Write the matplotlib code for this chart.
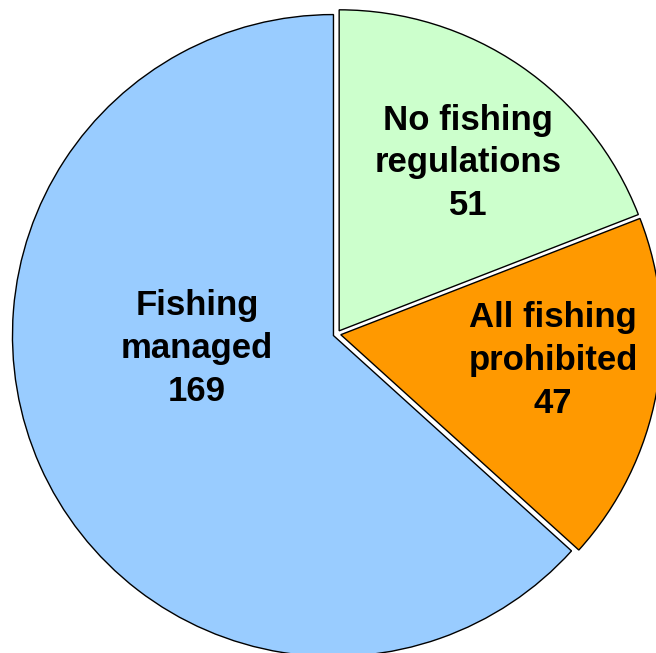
import matplotlib.pyplot as plt

# Data
categories = ['No fishing\nregulations', 'All fishing\nprohibited', 'Fishing\nmanaged']
counts = [51, 47, 169]
colors = ['#CCFFCC', '#FF9900', '#99CCFF']

# label centres in data units (radius 1 = pie radius)
label_pos = [(0.408, 0.533), (0.673, -0.083), (-0.436, -0.046)]

plt.rcParams['font.family'] = ['Liberation Sans', 'DejaVu Sans']

fig = plt.figure(figsize=(6.56, 6.53), dpi=100)
ax = fig.add_axes([0, 0, 1, 1])

wedges, _ = ax.pie(counts, colors=colors, startangle=90, counterclock=False,
                   explode=[0.012] * 3,
                   wedgeprops=dict(edgecolor='black', linewidth=1))

for lab, n, (x, y) in zip(categories, counts, label_pos):
    ax.text(x, y, f'{lab}\n{n}', ha='center', va='center', fontsize=25,
            fontweight='bold', linespacing=1.38)

ax.set_aspect('equal')
ax.set_xlim(-1.0498, 0.9938)
ax.set_ylim(-0.9938, 1.0405)
ax.axis('off')

fig.savefig('out.png', dpi=100)
